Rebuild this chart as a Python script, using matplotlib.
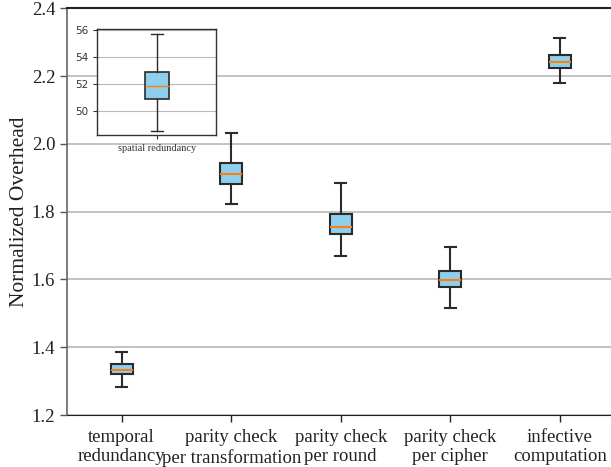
import matplotlib.pyplot as plt

# 主图数据
labels = ["temporal\nredundancy", "parity check\nper transformation", "parity check\nper round",
          "parity check\nper cipher", "infective\ncomputation"]
whislo = [1.283, 1.823, 1.669, 1.516, 2.180]
q1 = [1.320, 1.882, 1.733, 1.577, 2.224]
med = [1.334, 1.910, 1.754, 1.598, 2.242]
q3 = [1.351, 1.944, 1.794, 1.625, 2.262]
whishi = [1.386, 2.033, 1.884, 1.695, 2.313]

# 插图数据
inset_label = "spatial redundancy"
inset_whislo = 48.57
inset_q1 = 50.87
inset_med = 51.87
inset_q3 = 52.87
inset_whishi = 55.73

plt.rcParams['font.family'] = ['Liberation Serif', 'DejaVu Serif']

box_style = dict(facecolor='#8ecfee', edgecolor='#2b2b2b', linewidth=1.5)
line_style = dict(color='#2b2b2b', linewidth=1.5)
median_style = dict(color='#ff7f0e', linewidth=1.5)


def make_stats(lo, a, m, b, hi, name):
    return dict(whislo=lo, q1=a, med=m, q3=b, whishi=hi, fliers=[], label=name)


fig = plt.figure(figsize=(6.11, 4.67), dpi=100)
ax = fig.add_axes([67 / 611, 1 - 415 / 467, 547.5 / 611, 406.7 / 467])

stats = [make_stats(*v) for v in zip(whislo, q1, med, q3, whishi, labels)]
ax.bxp(stats, positions=range(1, 6), widths=0.2, patch_artist=True,
       boxprops=box_style, whiskerprops=line_style, capprops=line_style,
       medianprops=median_style, showfliers=False)

ax.set_xlim(0.5, 5.5)
ax.set_ylim(1.2, 2.4)
ax.set_yticks([1.2, 1.4, 1.6, 1.8, 2.0, 2.2, 2.4])
ax.yaxis.grid(True, color='#b8b8b8', linewidth=1.2)
ax.set_axisbelow(True)
ax.set_ylabel("Normalized Overhead", fontsize=15.5, color='#222222', labelpad=2)
ax.tick_params(axis='both', labelsize=13.5, colors='#222222', length=5, width=1)
ax.tick_params(axis='x', pad=5)
ax.tick_params(axis='y', colors='#555555', labelcolor='#222222')
ax.spines['left'].set_color('#666666')
ax.spines['left'].set_linewidth(1.2)
ax.spines['bottom'].set_color('#222222')
ax.spines['top'].set_color('#222222')
ax.spines['top'].set_linewidth(1.5)

# 插图
ins = fig.add_axes([97 / 611, 1 - 135.3 / 467, 119.3 / 611, 106.3 / 467])
ins.bxp([make_stats(inset_whislo, inset_q1, inset_med, inset_q3, inset_whishi, inset_label)],
        positions=[1], widths=0.2, patch_artist=True,
        boxprops=dict(facecolor='#8ecfee', edgecolor='#2b2b2b', linewidth=1.2),
        whiskerprops=dict(color='#2b2b2b', linewidth=1.0),
        capprops=dict(color='#2b2b2b', linewidth=1.0),
        medianprops=dict(color='#ff7f0e', linewidth=1.0), showfliers=False)
ins.set_xlim(0.5, 1.5)
ins.set_ylim(48.22, 56.07)
ins.set_yticks([50, 52, 54, 56])
ins.yaxis.grid(True, color='#b8b8b8', linewidth=0.8)
ins.set_axisbelow(True)
ins.tick_params(axis='y', labelsize=7.5, colors='#333333', length=3)
ins.tick_params(axis='x', labelsize=7.5, colors='#333333', length=3)
for lab in ins.get_yticklabels():
    lab.set_family('DejaVu Sans')
for s in ins.spines.values():
    s.set_color('#333333')
    s.set_linewidth(1.0)

fig.savefig("out.png", dpi=100)
